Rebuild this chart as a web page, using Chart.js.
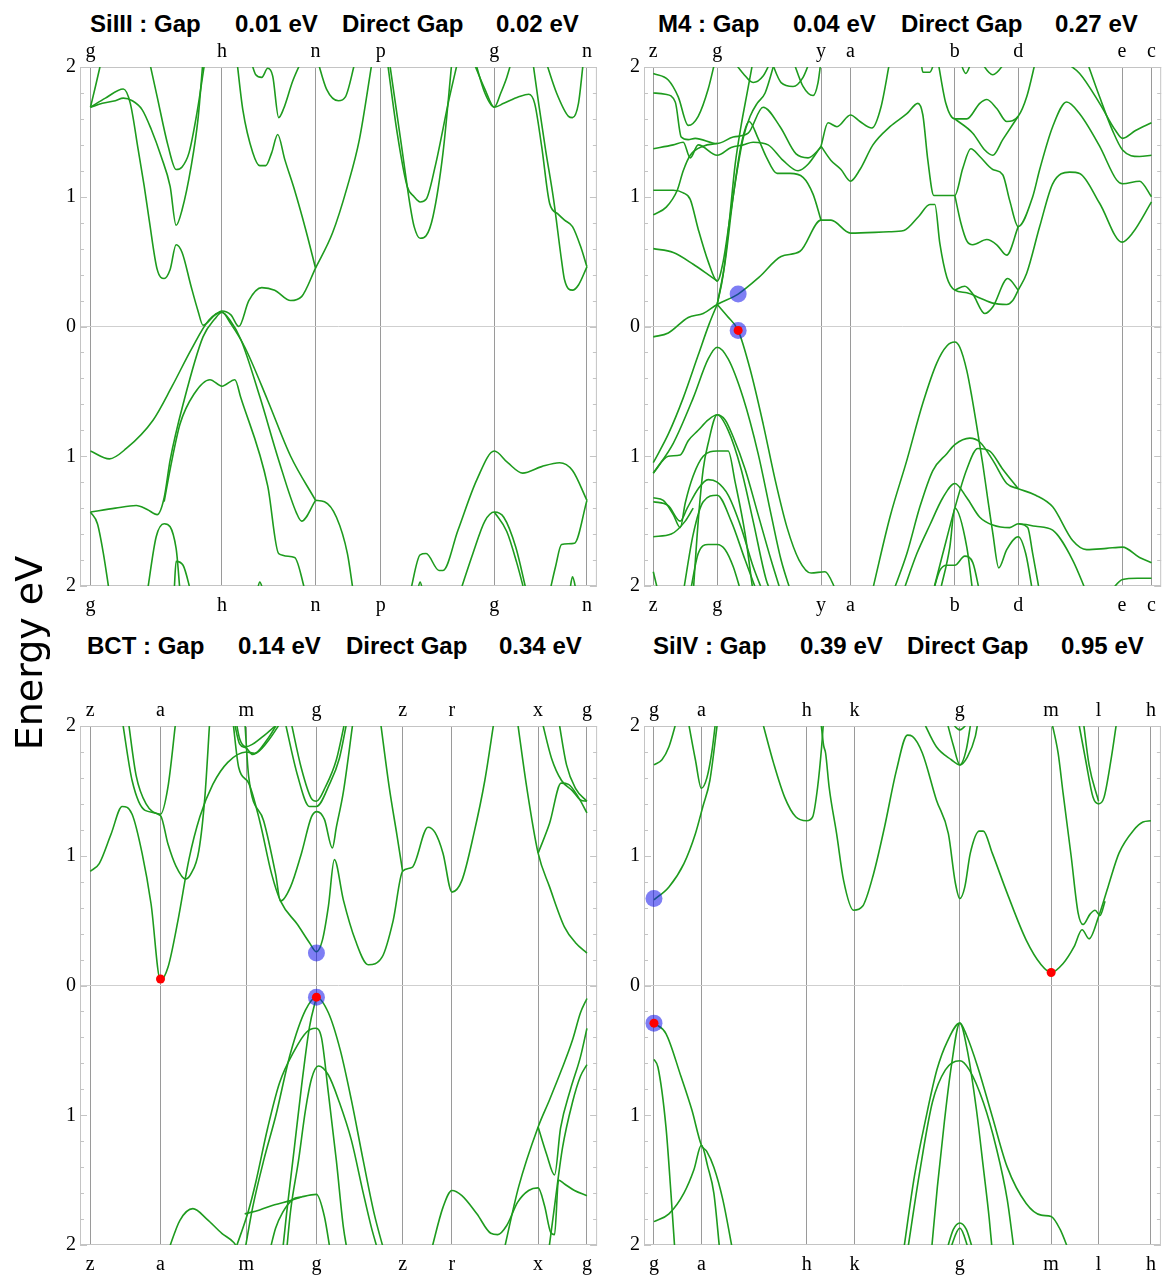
<!DOCTYPE html>
<html>
<head>
<meta charset="utf-8">
<script src="https://cdn.jsdelivr.net/npm/chart.js@4.4.0/dist/chart.umd.min.js"></script>
<style>
  body { margin: 0; background: #fff; width: 1164px; height: 1277px; position: relative; overflow: hidden; }
  canvas { position: absolute; }
  .t { position: absolute; font-family: "Liberation Sans", Arial, sans-serif; font-weight: bold; font-size: 24px; line-height: 24px; white-space: pre; color: #000; }
  #ylab { position: absolute; left: -101px; top: 633px; width: 260px; height: 40px; line-height: 40px; text-align: center;
          font-family: "DejaVu Sans", sans-serif; font-size: 38px; transform: rotate(-90deg); color: #000; }
</style>
</head>
<body>
<div class="t" style="left:90px;top:12px">SiIII : Gap</div>
<div class="t" style="left:235px;top:12px">0.01 eV</div>
<div class="t" style="left:342px;top:12px">Direct Gap</div>
<div class="t" style="left:496px;top:12px">0.02 eV</div>

<div class="t" style="left:658px;top:12px">M4 : Gap</div>
<div class="t" style="left:793px;top:12px">0.04 eV</div>
<div class="t" style="left:901px;top:12px">Direct Gap</div>
<div class="t" style="left:1055px;top:12px">0.27 eV</div>

<div class="t" style="left:87px;top:634px">BCT : Gap</div>
<div class="t" style="left:238px;top:634px">0.14 eV</div>
<div class="t" style="left:346px;top:634px">Direct Gap</div>
<div class="t" style="left:499px;top:634px">0.34 eV</div>

<div class="t" style="left:653px;top:634px">SiIV : Gap</div>
<div class="t" style="left:800px;top:634px">0.39 eV</div>
<div class="t" style="left:907px;top:634px">Direct Gap</div>
<div class="t" style="left:1061px;top:634px">0.95 eV</div>

<canvas id="tl" width="600" height="620" style="left:0;top:0"></canvas>
<canvas id="tr" width="564" height="620" style="left:600px;top:0"></canvas>
<canvas id="bl" width="600" height="657" style="left:0;top:620px"></canvas>
<canvas id="br" width="564" height="657" style="left:600px;top:620px"></canvas>
<div id="ylab">Energy eV</div>

<script>
// energy ticks (shown without sign) and minor frame ticks
const yTicks = [-2, -1, 0, 1, 2];
const yMinor = [-1.8, -1.6, -1.4, -1.2, -0.8, -0.6, -0.4, -0.2, 0.2, 0.4, 0.6, 0.8, 1.2, 1.4, 1.6, 1.8];

// ---- SiIII ----
const tlNames = ['g', 'h', 'n', 'p', 'g', 'n'];
const tlK = [0, 132, 226, 291.5, 405.5, 498.5];
const tlBands = [
  [[0,1.69],[5,1.85],[11,2.05]],
  [[59,2.05],[67,1.77],[78,1.39],[86,1.21],[92,1.23],[99,1.34],[107,1.65],[115,2.05]],
  [[0,1.69],[12,1.72],[25,1.74],[33,1.76],[42,1.74],[52,1.67],[61,1.52],[71,1.31],[80,1.08],[86,0.78],[92,0.90],[101,1.23],[108,1.6],[113,2.05]],
  [[0,1.69],[15,1.76],[33,1.83],[40,1.72],[48,1.36],[54,1.08],[59,0.82],[67,0.44],[74,0.37],[80,0.44],[86,0.63],[92,0.57],[101,0.31],[108,0.12],[113,0.01],[125,0.09],[132,0.12],[141,0.09],[149,0.0],[159,0.2],[172,0.30],[185,0.28],[201,0.20],[212,0.23],[226,0.45],[243,0.72],[258,1.08],[270,1.44],[283,2.05]],
  [[147,2.05],[153,1.67],[163,1.34],[170,1.24],[176,1.24],[182,1.34],[188,1.48],[195,1.29],[205,1.05],[216,0.75],[226,0.45]],
  [[161,2.05],[166,1.94],[172,1.92],[178,1.99],[183,1.93],[189,1.61],[194,1.68],[203,1.89],[212,2.05]],
  [[228,2.05],[237,1.83],[249,1.74],[256,1.77],[266,2.05]],
  [[298,2.05],[308,1.49],[318,1.08],[325,1.0],[331,0.96],[337,0.98],[346,1.23],[360,1.75],[369,2.05]],
  [[300,2.05],[312,1.41],[321,0.93],[325,0.77],[331,0.68],[337,0.70],[344,0.85],[354,1.34],[363,2.05]],
  [[384,2.05],[396,1.83],[405.5,1.69],[415,1.72],[430,1.77],[440,1.79],[446,1.72],[453,1.39],[461,0.95],[469,0.87],[476,0.82],[484,0.77],[492,0.62],[498.5,0.46]],
  [[386,2.05],[396,1.80],[405.5,1.69],[412,1.80],[418,1.92],[423,2.05]],
  [[444,2.05],[450,1.72],[457,1.36],[465,0.98],[473,0.51],[476,0.36],[484,0.28],[490,0.32],[498.5,0.46]],
  [[457,2.05],[468,1.80],[480,1.62],[484,1.61],[490,1.72],[495,2.05]],
  [[0,-0.96],[19,-1.02],[36,-0.94],[63,-0.72],[82,-0.46],[101,-0.18],[119,0.05],[132,0.11],[141,0.02],[155,-0.16],[178,-0.57],[201,-1.0],[226,-1.34]],
  [[0,-1.43],[25,-1.40],[46,-1.38],[57,-1.41],[67,-1.45],[74,-1.32],[80,-1.03],[94,-0.57],[113,-0.08],[125,0.06],[132,0.11],[140,0.05],[151,-0.10],[170,-0.54],[189,-1.03],[207,-1.44],[212,-1.50],[226,-1.34]],
  [[74,-1.35],[80,-1.1],[90,-0.75],[104,-0.52],[120,-0.41],[132,-0.46],[145,-0.41],[151,-0.55],[178,-1.23],[189,-1.75],[205,-1.78],[216,-2.05]],
  [[0,-1.43],[7,-1.52],[13,-1.75],[19,-2.05]],
  [[57,-2.05],[66,-1.62],[74,-1.52],[86,-1.71],[90,-2.05]],
  [[84,-2.05],[86,-1.81],[93,-1.84],[101,-2.05]],
  [[167,-2.05],[170,-1.97],[174,-2.05]],
  [[226,-1.34],[235,-1.35],[247,-1.47],[258,-1.75],[264,-2.05]],
  [[321,-2.05],[331,-1.76],[337,-1.75],[350,-1.88],[354,-1.88],[369,-1.57],[388,-1.18],[405.5,-0.96],[419,-1.05],[434,-1.13],[453,-1.08],[471,-1.05],[484,-1.11],[498.5,-1.34]],
  [[328,-2.05],[331,-1.97],[334,-2.05]],
  [[371,-2.05],[384,-1.75],[396,-1.50],[405.5,-1.43],[415,-1.47],[427,-1.70],[438,-2.05]],
  [[405.5,-1.43],[418,-1.58],[428,-1.82],[436,-2.05]],
  [[461,-2.05],[467,-1.85],[473,-1.68],[486,-1.67],[498.5,-1.34]],
  [[481,-2.05],[484,-1.93],[488,-2.05]]
];
const tlBlue = [];
const tlRed = [];

// ---- M4 ----
const trNames = ['z', 'g', 'y', 'a', 'b', 'd', 'e', 'c'];
const trK = [0, 64, 168, 197.5, 302, 365.5, 469.5, 499];
const trBands = [
  [[0,1.95],[15,1.90],[25,1.77],[35,1.55],[45,1.62],[55,1.83],[62,2.05]],
  [[0,1.80],[12,1.79],[22,1.73],[28,1.46],[35,1.44],[42,1.45],[64,1.41],[80,1.46],[95,1.49],[110,1.69],[127,1.54],[143,1.33],[155,1.30],[168,1.38]],
  [[0,1.37],[20,1.40],[30,1.42],[37,1.30],[45,1.40],[64,1.32],[78,1.38],[90,1.40],[100,1.42],[115,1.40],[130,1.28],[145,1.20],[155,1.25],[168,1.39]],
  [[0,1.05],[20,1.05],[30,1.03],[37,0.98],[45,0.75],[55,0.50],[64,0.35],[70,0.50],[77,0.85],[84,1.20],[90,1.45],[97,1.62],[104,1.72],[112,1.80],[122,2.05]],
  [[0,0.86],[13,0.92],[24,1.05],[30,1.20],[37,1.32],[50,1.39],[64,1.41]],
  [[0,0.60],[20,0.57],[40,0.48],[55,0.40],[64,0.35]],
  [[64,0.17],[70,0.40],[76,0.80],[82,1.25],[88,1.55],[94,1.80],[100,2.05]],
  [[64,0.17],[72,0.50],[80,1.00],[88,1.40],[96,1.58],[105,1.45],[113,1.31],[124,1.18],[137,1.18],[150,1.15],[160,1.02],[168,0.82]],
  [[80,2.05],[90,1.95],[100,1.88],[110,1.93],[118,2.05]],
  [[118,2.05],[128,1.88],[140,1.85],[150,1.92],[157,2.05]],
  [[140,2.05],[150,1.85],[160,1.78],[165,1.88],[168,2.05]],
  [[0,-0.08],[15,-0.05],[35,0.07],[50,0.10],[64,0.17],[85,0.25],[106,0.38],[128,0.54],[147,0.58],[168,0.82],[178,0.82],[197.5,0.72],[236,0.73],[251,0.74],[266,0.85],[277,0.94],[282,0.94],[287,0.64],[294,0.38],[302,0.28],[314,0.26],[327,0.22],[340,0.18],[354,0.17],[360,0.20],[365.5,0.28],[374,0.41],[387,0.77],[400,1.10],[417,1.19],[427,1.18],[447,0.95],[469.5,0.65],[480,0.72],[499,0.96]],
  [[168,1.39],[175,1.57],[184,1.54],[197.5,1.63],[207,1.58],[219,1.53],[228,1.69],[237,2.05]],
  [[168,1.39],[178,1.28],[188,1.21],[197.5,1.12],[207,1.21],[220,1.40],[237,1.54],[254,1.64],[265,1.72],[270,1.63],[275,1.28],[281,1.01],[302,1.01],[310,1.22],[318,1.37],[327,1.31],[340,1.21],[350,1.17],[357,0.97],[365.5,0.77],[380,1.0],[387,1.21],[400,1.54],[414,1.73],[427,1.64],[447,1.39],[464,1.13],[470,1.10],[487,1.12],[499,1.0]],
  [[302,1.01],[308,0.80],[314,0.66],[320,0.63],[334,0.67],[344,0.63],[354,0.55],[365.5,0.77]],
  [[285,2.05],[293,1.72],[302,1.60],[314,1.60],[327,1.72],[334,1.75],[344,1.68],[354,1.58],[365.5,1.62],[374,1.77],[383,2.05]],
  [[302,1.60],[320,1.49],[332,1.36],[340,1.32],[350,1.44],[365.5,1.62]],
  [[410,2.05],[427,1.95],[447,1.72],[463,1.51],[470,1.45],[483,1.51],[499,1.57]],
  [[434,2.05],[447,1.77],[460,1.51],[470,1.36],[487,1.31],[499,1.32]],
  [[268,2.05],[270,1.96],[277,1.96],[282,2.05]],
  [[307,2.05],[313,1.95],[319,2.05]],
  [[327,2.05],[340,1.94],[354,2.05]],
  [[302,0.28],[312,0.31],[320,0.25],[332,0.10],[340,0.15],[355,0.37],[365.5,0.28]],
  [[64,0.17],[74,0.08],[85,-0.03],[97,-0.33],[110,-0.75],[122,-1.18],[134,-1.55],[146,-1.80],[158,-1.90],[172,-1.89],[184,-2.05]],
  [[0,-1.05],[15,-0.83],[30,-0.55],[45,-0.22],[56,0.02],[64,0.17]],
  [[0,-1.13],[20,-0.90],[40,-0.55],[55,-0.25],[64,-0.16],[75,-0.25],[90,-0.55],[105,-0.98],[118,-1.45],[128,-1.80],[138,-2.05]],
  [[0,-1.13],[15,-1.00],[27,-0.99],[35,-0.88],[45,-0.80],[55,-0.72],[64,-0.68],[72,-0.72],[80,-0.85],[92,-1.10],[105,-1.45],[118,-1.80],[128,-2.05]],
  [[40,-2.05],[45,-1.5],[50,-1.10],[55,-0.90],[64,-0.68],[75,-0.80],[88,-1.10],[100,-1.50],[113,-1.95],[118,-2.05]],
  [[0,-1.32],[10,-1.34],[20,-1.45],[27,-1.55],[32,-1.36],[40,-1.15],[50,-1.0],[64,-0.96],[75,-0.96],[82,-1.20],[92,-1.60],[100,-2.05]],
  [[0,-1.35],[15,-1.38],[27,-1.50],[34,-1.40],[45,-1.25],[55,-1.18],[64,-1.20],[75,-1.30],[88,-1.55],[100,-1.85],[110,-2.05]],
  [[30,-2.05],[40,-1.6],[50,-1.35],[64,-1.30],[78,-1.50],[92,-1.80],[104,-2.05]],
  [[0,-1.62],[18,-1.60],[32,-1.50],[40,-1.40]],
  [[37,-2.05],[45,-1.75],[55,-1.68],[64,-1.68],[72,-1.72],[80,-1.85],[88,-2.05]],
  [[0,-1.89],[5,-2.05]],
  [[219,-2.05],[237,-1.47],[254,-1.03],[270,-0.59],[284,-0.28],[294,-0.15],[302,-0.12],[307,-0.16],[314,-0.34],[319,-0.54],[324,-0.77],[330,-1.06],[335,-1.33],[340,-1.59],[346,-1.86],[354,-1.72],[365.5,-1.62],[373,-1.75],[380,-2.05]],
  [[240,-2.05],[254,-1.75],[267,-1.39],[280,-1.11],[294,-0.98],[302,-0.91],[317,-0.86],[327,-0.89],[340,-1.03],[354,-1.21],[365.5,-1.25],[383,-1.30],[400,-1.39],[420,-1.65],[434,-1.72],[454,-1.71],[470,-1.70],[487,-1.78],[499,-1.82]],
  [[250,-2.05],[264,-1.75],[277,-1.53],[290,-1.32],[302,-1.21],[314,-1.32],[327,-1.47],[340,-1.53],[357,-1.55],[365.5,-1.52],[383,-1.54],[400,-1.57],[420,-1.80],[434,-2.05]],
  [[280,-2.05],[290,-1.75],[302,-1.40],[314,-1.10],[325,-0.94],[337,-0.96],[350,-1.10],[365.5,-1.25]],
  [[280,-2.05],[287,-1.88],[294,-1.84],[302,-1.84],[312,-1.77],[320,-1.82],[327,-2.05]],
  [[287,-2.05],[297,-1.70],[302,-1.40],[314,-1.70],[320,-2.05]],
  [[365.5,-1.52],[375,-1.55],[380,-1.75],[387,-2.05]],
  [[457,-2.05],[470,-1.95],[485,-1.94],[499,-1.94]]
];
const trBlue = [[85, 0.25], [85, -0.03]];
const trRed = [[85, -0.03]];

// ---- BCT ----
const blNames = ['z', 'a', 'm', 'g', 'z', 'r', 'x', 'g'];
const blK = [0, 70.5, 156.5, 227, 313.5, 363, 449.5, 498.5];
const blBands = [
  [[0,0.88],[9,0.94],[21,1.17],[32,1.38],[42,1.32],[52,1.02],[61,0.63],[70.5,0.04],[78,0.14],[88,0.50],[99,0.97],[110,1.30],[123,1.55],[138,1.72],[156.5,1.80],[165,1.79],[178,1.88],[193,2.05]],
  [[32,2.05],[42,1.58],[55,1.35],[70.5,1.31],[78,1.09],[86,0.92],[95.5,0.82],[101,0.86],[109,1.04],[115,1.45],[120,2.05]],
  [[38,2.05],[46,1.62],[56,1.40],[70.5,1.32],[78,1.53],[86,2.05]],
  [[143,2.05],[149,1.68],[159,1.56],[170,1.27],[182,0.86],[191,0.65],[208,0.47],[220,0.33],[227,0.26],[233,0.35],[239,0.61],[245,0.97],[254,0.66],[266,0.35],[279,0.16],[293,0.22],[304,0.50],[313.5,0.88],[323,0.91],[339,1.22],[346,1.18],[354,1.02],[363,0.72],[373,0.81],[385,1.17],[396,1.58],[405.5,2.05]],
  [[155,2.05],[159,1.61],[174,1.27],[186,0.86],[191,0.65],[201,0.76],[212,1.02],[222,1.30],[227.5,1.34],[235,1.28],[243,1.06],[247,1.22],[254,1.49],[264,2.05]],
  [[195,2.05],[208,1.62],[220,1.38],[227,1.38],[240,1.55],[250,1.75],[258,2.05]],
  [[201,2.05],[212,1.67],[222,1.44],[227,1.42],[236,1.53],[247,1.74],[256,2.05]],
  [[291,2.05],[300,1.53],[308,1.15],[313.5,0.88]],
  [[428.5,2.05],[438,1.53],[449.5,1.02],[461,0.76],[476,0.45],[487,0.33],[498.5,0.25]],
  [[449.5,1.02],[461,1.25],[472.6,1.56],[480,1.55],[490,1.45],[498.5,1.33]],
  [[453,2.05],[463,1.75],[473,1.58],[484,1.50],[492,1.43],[498.5,1.42]],
  [[470,2.05],[478,1.70],[487,1.52],[498.5,1.42]],
  [[146,2.05],[150,1.90],[156.5,1.84],[163,1.86],[175,1.93],[193,2.05]],
  [[144,2.05],[150,1.86],[156.5,1.83],[163,1.78],[178,1.90],[190,2.05]],
  [[155,-2.05],[163,-1.71],[174,-1.35],[186,-1.01],[201,-0.52],[216,-0.19],[227,-0.09],[239,-0.21],[251,-0.50],[262,-0.88],[274,-1.35],[285,-1.76],[295,-2.05]],
  [[193,-2.05],[197,-1.76],[205,-1.24],[212,-0.78],[220,-0.32],[227,-0.09]],
  [[145,-2.05],[159,-1.73],[166,-1.52],[178,-1.10],[190,-0.75],[205,-0.50],[217,-0.36],[226,-0.33],[232,-0.40],[239,-0.83],[247,-1.35],[254,-1.86],[258,-2.05]],
  [[197,-2.05],[201,-1.74],[209,-1.35],[216,-0.96],[222,-0.72],[229,-0.62],[239,-0.69],[250,-0.90],[262,-1.19],[274,-1.60],[282,-1.86],[289,-2.05]],
  [[180,-2.05],[186,-1.87],[193,-1.75],[203,-1.65],[212,-1.63],[227,-1.61],[235,-1.78],[241,-2.05]],
  [[155,-1.76],[170,-1.73],[185,-1.69],[200,-1.66],[212,-1.63]],
  [[78,-2.05],[90,-1.81],[103,-1.72],[117,-1.80],[132,-1.91],[144,-1.98],[150,-2.05]],
  [[342,-2.05],[354,-1.71],[363,-1.58],[373,-1.62],[388,-1.76],[402,-1.91],[409,-1.92],[418,-1.85],[429,-1.67],[440,-1.58],[449.5,-1.56],[456,-1.70],[462,-1.90],[466,-1.92],[470,-1.50],[476,-1.53],[486,-1.58],[498.5,-1.62]],
  [[415,-2.05],[430,-1.55],[449.5,-1.09],[461,-0.88],[473,-0.65],[484,-0.42],[492,-0.21],[498.5,-0.10]],
  [[449.5,-1.09],[458,-1.30],[466,-1.46],[472,-1.10],[482,-0.80],[492,-0.55],[498.5,-0.33]],
  [[460,-2.05],[466,-1.70],[474,-1.25],[484,-0.90],[492,-0.70],[498.5,-0.61]]
];
const blBlue = [[227, 0.25], [227, -0.09]];
const blRed = [[70.5, 0.05], [227, -0.09]];

// ---- SiIV ----
const brNames = ['g', 'a', 'h', 'k', 'g', 'm', 'l', 'h'];
const brK = [0, 47.5, 153, 201, 306.5, 398, 445.5, 498];
const brBands = [
  [[0,0.66],[15,0.76],[30,0.94],[41.5,1.17],[49,1.38],[56,1.58],[64,2.05]],
  [[0,1.70],[8,1.74],[15,1.84],[23,2.05]],
  [[34,2.05],[41.5,1.74],[47.5,1.52],[53,1.60],[58,1.80],[62,2.05]],
  [[108,2.05],[120,1.71],[131,1.45],[142,1.30],[153,1.27],[159,1.30],[164,1.53],[168,1.84],[170,2.05]],
  [[167,2.05],[170,1.85],[172,1.79],[175.5,1.53],[183,1.17],[190,0.81],[200,0.58],[209,0.61],[220,0.86],[231,1.22],[243,1.66],[254,1.93],[259,1.92],[269,1.79],[283,1.43],[295,1.17],[302,0.79],[306.5,0.67],[311.5,0.76],[317,1.02],[326,1.19],[330,1.19],[339,1.02],[354,0.71],[373,0.35],[388,0.16],[398,0.10],[410,0.17],[421,0.30],[429,0.43],[436,0.36],[445.5,0.53],[455,0.76],[466,1.02],[481,1.20],[490,1.26],[498,1.27]],
  [[398,2.05],[405,1.79],[410,1.48],[418,1.0],[425,0.56],[430,0.47],[437,0.55],[442,0.58],[447,0.54],[452,0.65]],
  [[425,2.05],[432.5,1.74],[440,1.45],[445.5,1.40],[451,1.45],[458,1.74],[464,2.05]],
  [[430,2.05],[436,1.70],[445.5,1.42]],
  [[269,2.05],[283,1.84],[298,1.74],[306.5,1.70],[314,1.76],[322,1.92],[325,2.05]],
  [[293,2.05],[300,1.85],[306.5,1.70],[313,1.82],[318,2.05]],
  [[296,2.05],[306.5,1.97],[317,2.05]],
  [[0,-0.29],[12,-0.37],[27,-0.70],[38,-0.96],[47.5,-1.23],[53,-1.28],[60,-1.40],[69,-1.65],[79,-2.05]],
  [[0,-0.57],[4,-0.63],[12,-1.09],[17,-1.60],[21,-2.05]],
  [[0,-1.82],[15,-1.76],[30,-1.60],[40,-1.42],[47.5,-1.23],[54,-1.40],[60,-1.60],[66,-2.05]],
  [[250,-2.05],[261,-1.47],[272,-1.04],[283.5,-0.65],[294,-0.43],[306.5,-0.29],[313,-0.38],[324.5,-0.63],[339,-1.01],[354,-1.40],[373,-1.68],[388,-1.77],[398,-1.78],[407,-1.88],[416,-2.05]],
  [[278,-2.05],[284,-1.55],[291,-1.05],[298,-0.62],[306.5,-0.29],[314,-0.50],[323,-0.95],[330,-1.40],[336,-1.80],[339,-2.05]],
  [[254,-2.05],[266,-1.45],[279,-0.90],[292,-0.65],[306.5,-0.58],[316,-0.65],[330,-0.90],[343,-1.25],[354,-1.65],[361,-2.05]],
  [[293,-2.05],[300,-1.88],[306.5,-1.83],[313,-1.88],[320,-2.05]],
  [[296,-2.05],[306.5,-1.87],[316,-2.05]]
];
const brBlue = [[0, 0.67], [0, -0.29]];
const brRed = [[0, -0.29], [398, 0.10]];

const green = 'rgb(30,155,30)';
const serif = { family: '"Liberation Serif", "Times New Roman", serif', size: 20 };

const framePlugin = {
  id: 'frame',
  beforeDatasetsDraw(chart) {
    const { ctx, chartArea: a, scales: { y } } = chart;
    ctx.save();
    ctx.strokeStyle = '#c4c4c4';
    ctx.lineWidth = 1;
    ctx.strokeRect(a.left + 0.5, a.top + 0.5, a.width - 1, a.height - 1);
    ctx.beginPath();
    yTicks.concat(yMinor).forEach(v => {
      const py = Math.round(y.getPixelForValue(v)) + 0.5;
      const len = Number.isInteger(v) ? 7 : 4;
      ctx.moveTo(a.left, py); ctx.lineTo(a.left + len, py);
      ctx.moveTo(a.right, py); ctx.lineTo(a.right - len, py);
    });
    ctx.stroke();
    ctx.restore();
  }
};

function xAxis(pos, k, names, xmin, xmax, pad) {
  return {
    type: 'linear', position: pos, min: xmin, max: xmax,
    afterBuildTicks: s => { s.ticks = k.map(v => ({ value: v })); },
    afterFit: s => { s.height = 30; },
    ticks: { autoSkip: false, maxRotation: 0, padding: pad, color: '#000', font: serif,
             callback: (v, i) => names[i] },
    grid: pos === 'bottom' ? { color: '#9a9a9a', lineWidth: 1, drawTicks: false } : { display: false, drawTicks: false },
    border: { display: false }
  };
}

function panel(id, k, names, bands, blue, red, xmin, xmax, yw, padding) {
  const datasets = bands.map(b => ({
    data: b.map(p => ({ x: p[0], y: p[1] })),
    borderColor: green, borderWidth: 1.6, pointRadius: 0,
    cubicInterpolationMode: 'monotone', fill: false, order: 3
  }));
  datasets.push({
    type: 'scatter', data: blue.map(p => ({ x: p[0], y: p[1] })),
    pointRadius: 8.5, pointBackgroundColor: 'rgba(20,20,235,0.55)', pointBorderWidth: 0, order: 1
  });
  datasets.push({
    type: 'scatter', data: red.map(p => ({ x: p[0], y: p[1] })),
    pointRadius: 4.5, pointBackgroundColor: '#ff0000', pointBorderWidth: 0, order: 0
  });
  new Chart(document.getElementById(id), {
    type: 'line',
    data: { datasets },
    options: {
      responsive: false, animation: false, events: [],
      layout: { padding, autoPadding: false },
      plugins: { legend: { display: false }, tooltip: { enabled: false } },
      scales: {
        x: xAxis('bottom', k, names, xmin, xmax, 8),
        x2: xAxis('top', k, names, xmin, xmax, 3),
        y: {
          min: -2, max: 2,
          afterBuildTicks: s => { s.ticks = yTicks.map(v => ({ value: v })); },
          afterFit: s => { s.width = yw; },
          ticks: { padding: 4, color: '#000', font: serif, callback: v => String(Math.abs(v)) },
          grid: { drawTicks: false, color: c => (c.tick && c.tick.value === 0) ? '#cfcfcf' : 'rgba(0,0,0,0)' },
          border: { display: false }
        }
      }
    },
    plugins: [framePlugin]
  });
}

panel('tl', tlK, tlNames, tlBands, tlBlue, tlRed, -10.5, 508.5, 80, { left: 0, right: 1, top: 37, bottom: 4 });
panel('tr', trK, trNames, trBands, trBlue, trRed, -9.3, 508.7, 44, { left: 0, right: 2, top: 37, bottom: 4 });
panel('bl', blK, blNames, blBands, blBlue, blRed, -10.3, 508.7, 80, { left: 0, right: 1, top: 76, bottom: 2 });
panel('br', brK, brNames, brBands, brBlue, brRed, -10, 508, 44, { left: 0, right: 2, top: 76, bottom: 2 });
</script>
</body>
</html>
